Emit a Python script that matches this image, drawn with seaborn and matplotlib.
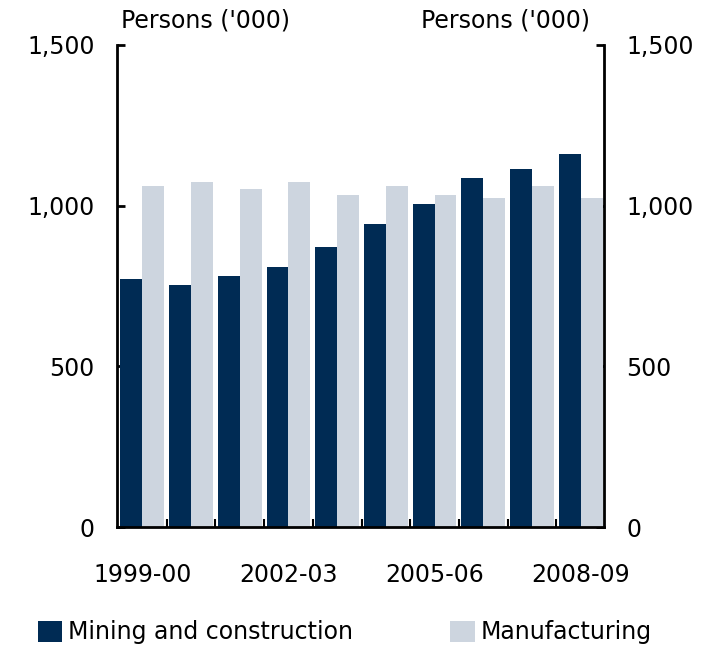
import pandas as pd
import matplotlib.pyplot as plt
import seaborn as sns
from matplotlib.patches import Patch
from matplotlib.ticker import FixedLocator

years = ['1999-00', '2000-01', '2001-02', '2002-03', '2003-04',
         '2004-05', '2005-06', '2006-07', '2007-08', '2008-09']
mining = [771, 752, 780, 808, 870, 942, 1004, 1085, 1113, 1159]
manufacturing = [1060, 1075, 1051, 1075, 1032, 1060, 1032, 1023, 1060, 1023]
series = ['Mining and construction', 'Manufacturing']
colours = ['#002B54', '#CDD5DF']
tick_years = ['1999-00', '2002-03', '2005-06', '2008-09']
y_ticks = [0, 500, 1000, 1500]
y_labels = ['0', '500', '1,000', '1,500']
unit = "Persons ('000)"

df = pd.DataFrame({'year': years, series[0]: mining, series[1]: manufacturing})
df = df.melt(id_vars='year', var_name='series', value_name='persons')

sns.set_style('white')
plt.rcParams['font.family'] = ['DejaVu Sans']
plt.rcParams['text.color'] = 'black'
plt.rcParams['xtick.color'] = 'black'
plt.rcParams['ytick.color'] = 'black'
plt.rcParams['xtick.labelcolor'] = 'black'
plt.rcParams['ytick.labelcolor'] = 'black'

fig = plt.figure(figsize=(7.09, 6.5), dpi=100)
ax = fig.add_axes([0.165, 0.189, 0.687, 0.742])

sns.barplot(data=df, x='year', y='persons', hue='series', hue_order=series,
            palette=colours, width=0.9, saturation=1, linewidth=0,
            legend=False, ax=ax)

ax.set_xlim(-0.52, 9.48)
ax.set_ylim(0, 1500)
ax.set_xlabel(''); ax.set_ylabel('')

for side in ['left', 'right', 'bottom']:
    ax.spines[side].set_visible(True)
    ax.spines[side].set_linewidth(2)
    ax.spines[side].set_color('black')
ax.spines['top'].set_visible(False)

ax.set_yticks(y_ticks)
ax.set_yticklabels(y_labels)
ax.set_xticks([years.index(y) for y in tick_years])
ax.set_xticklabels(tick_years)
ax.xaxis.set_minor_locator(FixedLocator([i + 0.5 for i in range(len(years) - 1)]))

ax.tick_params(axis='y', which='major', direction='in', length=6, width=2,
               left=True, right=True, labelleft=True, labelright=True,
               labelsize=17, pad=16, color='black', labelcolor='black')
ax.tick_params(axis='x', which='major', length=0, labelsize=17, pad=26,
               labelcolor='black')
ax.tick_params(axis='x', which='minor', direction='in', length=6, width=1.5,
               bottom=True, color='black')

fig.text(0.17, 0.968, unit, ha='left', va='center', fontsize=17, color='black')
fig.text(0.832, 0.968, unit, ha='right', va='center', fontsize=17, color='black')

handles = [Patch(facecolor=c, edgecolor='none', label=s) for c, s in zip(colours, series)]
leg = fig.legend(handles=handles, loc='center left', bbox_to_anchor=(0.053, 0.027), ncol=2,
                 frameon=False, fontsize=17, handlelength=1.05, handleheight=1.0,
                 handletextpad=0.25, columnspacing=4.1, borderpad=0, borderaxespad=0)
for t in leg.get_texts():
    t.set_color('black')

fig.savefig('out.png', dpi=100)
